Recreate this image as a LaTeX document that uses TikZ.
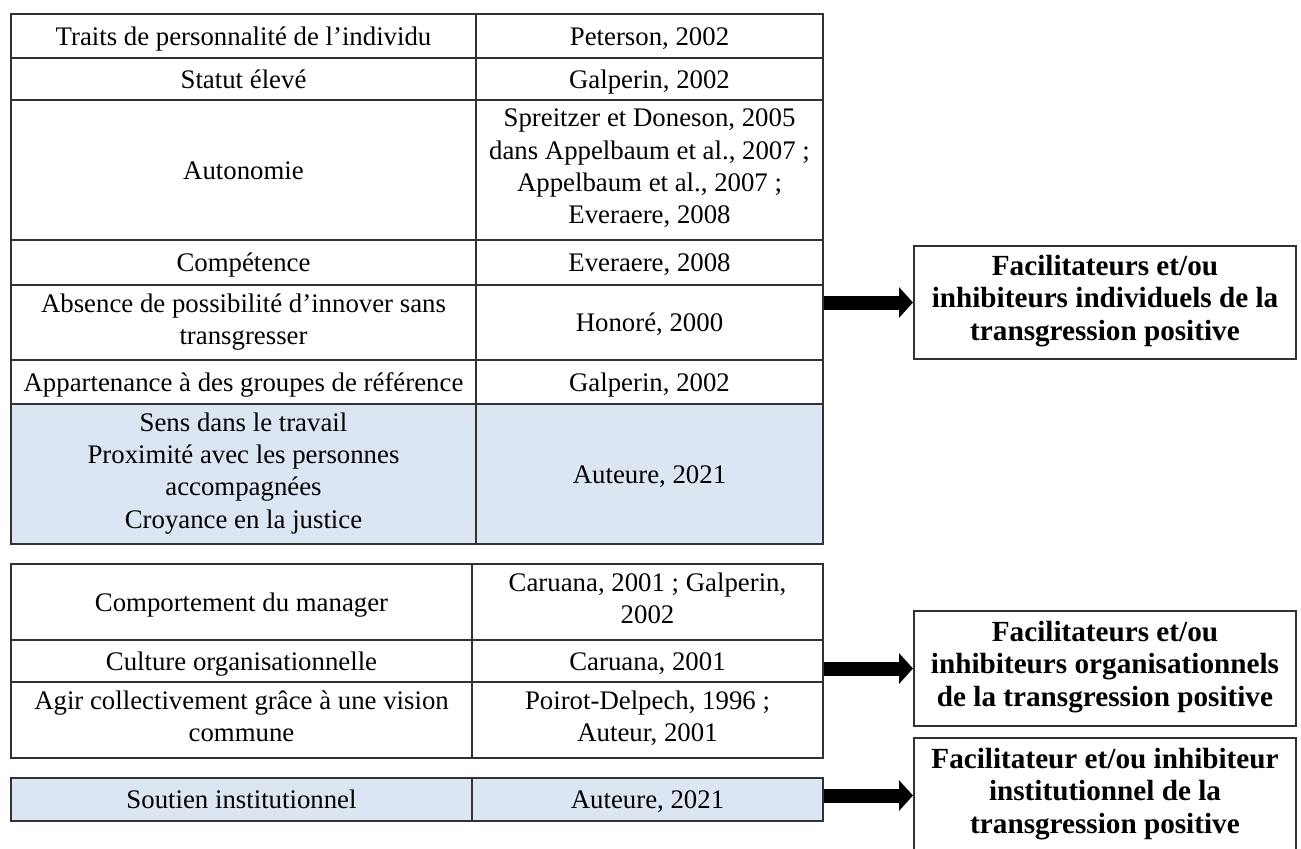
\documentclass[tikz,border=0pt]{standalone}
\usepackage{fontspec}
\setmainfont{Liberation Serif}
\usetikzlibrary{arrows.meta}
\definecolor{paleblue}{RGB}{220,230,242}
\definecolor{rulegray}{RGB}{50,50,50}
\newcommand{\cellstrut}{\rule[-3.6pt]{0pt}{16.2pt}}
\tikzstyle{cell}=[draw=rulegray,line width=1pt,anchor=north west,align=center,inner sep=0pt,font=\fontsize{13.4pt}{16.2pt}\selectfont,execute at begin node=\cellstrut,execute at end node=\cellstrut]
\tikzstyle{result}=[draw=rulegray,line width=1pt,anchor=north west,align=center,inner sep=0pt,minimum width=191pt,font=\fontsize{14.6pt}{16.3pt}\selectfont\bfseries,execute at begin node=\strut,execute at end node=\strut]
\tikzstyle{fat arrow}=[draw=black,line width=7pt,-{Triangle[length=7pt,width=15pt]}]

\begin{document}
\begin{tikzpicture}[x=0.5pt,y=-0.5pt]
	\useasboundingbox (0,0) rectangle (1301,848);
	\clip (0,0) rectangle (1301,848);

	% First table: individual factors
	\foreach \name/\y/\h/\crit/\refs in {
		traits/13/22/{Traits de personnalité de l’individu}/{Peterson, 2002},
		statut/57/21/{Statut élevé}/{Galperin, 2002},
		autonomie/99/70/{Autonomie}/{Spreitzer et Doneson, 2005\\dans Appelbaum et al., 2007 ;\\Appelbaum et al., 2007 ;\\Everaere, 2008},
		competence/239/22.5/{Compétence}/{Everaere, 2008},
		absence/284/37.5/{Absence de possibilité d’innover sans\\transgresser}/{Honoré, 2000},
		appartenance/359/22/{Appartenance à des groupes de référence}/{Galperin, 2002}}
	{
		\node[cell,minimum width=232.5pt,minimum height=\h pt] (\name) at (10,\y) {\crit};
		\node[cell,minimum width=173.5pt,minimum height=\h pt] (\name-ref) at (475,\y) {\refs};
	}
	\node[cell,fill=paleblue,minimum width=232.5pt,minimum height=70pt] (sens) at (10,403)
		{Sens dans le travail\\Proximité avec les personnes\\accompagnées\\Croyance en la justice};
	\node[cell,fill=paleblue,minimum width=173.5pt,minimum height=70pt] (sens-ref) at (475,403) {Auteure, 2021};

	% Second table: organisational factors
	\foreach \name/\y/\h/\crit/\refs in {
		manager/563/38/{Comportement du manager}/{Caruana, 2001 ; Galperin,\\2002},
		culture/639/21/{Culture organisationnelle}/{Caruana, 2001},
		agir/681/38/{Agir collectivement grâce à une vision\\commune}/{Poirot-Delpech, 1996 ;\\Auteur, 2001}}
	{
		\node[cell,minimum width=230.5pt,minimum height=\h pt] (\name) at (10,\y) {\crit};
		\node[cell,minimum width=175.5pt,minimum height=\h pt] (\name-ref) at (471,\y) {\refs};
	}

	% Third table: institutional factor
	\node[cell,fill=paleblue,minimum width=230.5pt,minimum height=21.5pt] (soutien) at (10,777) {Soutien institutionnel};
	\node[cell,fill=paleblue,minimum width=175.5pt,minimum height=21.5pt] (soutien-ref) at (471,777) {Auteure, 2021};

	% Result boxes
	\node[result,minimum height=56.5pt] (indiv) at (913,245)
		{Facilitateurs et/ou\\inhibiteurs individuels de la\\transgression positive};
	\node[result,minimum height=57.5pt] (orga) at (913,610)
		{Facilitateurs et/ou\\inhibiteurs organisationnels\\de la transgression positive};
	\node[result,minimum height=57.5pt] (insti) at (913,737)
		{Facilitateur et/ou inhibiteur\\institutionnel de la\\transgression positive};

	% Arrows from tables to boxes
	\path[fat arrow] (absence-ref.east |- indiv.west) -- (indiv.west);
	\path[fat arrow] (culture-ref.east |- orga.west) -- (orga.west);
	\path[fat arrow] (soutien-ref.east |- insti.west) -- (insti.west);
\end{tikzpicture}
\end{document}
